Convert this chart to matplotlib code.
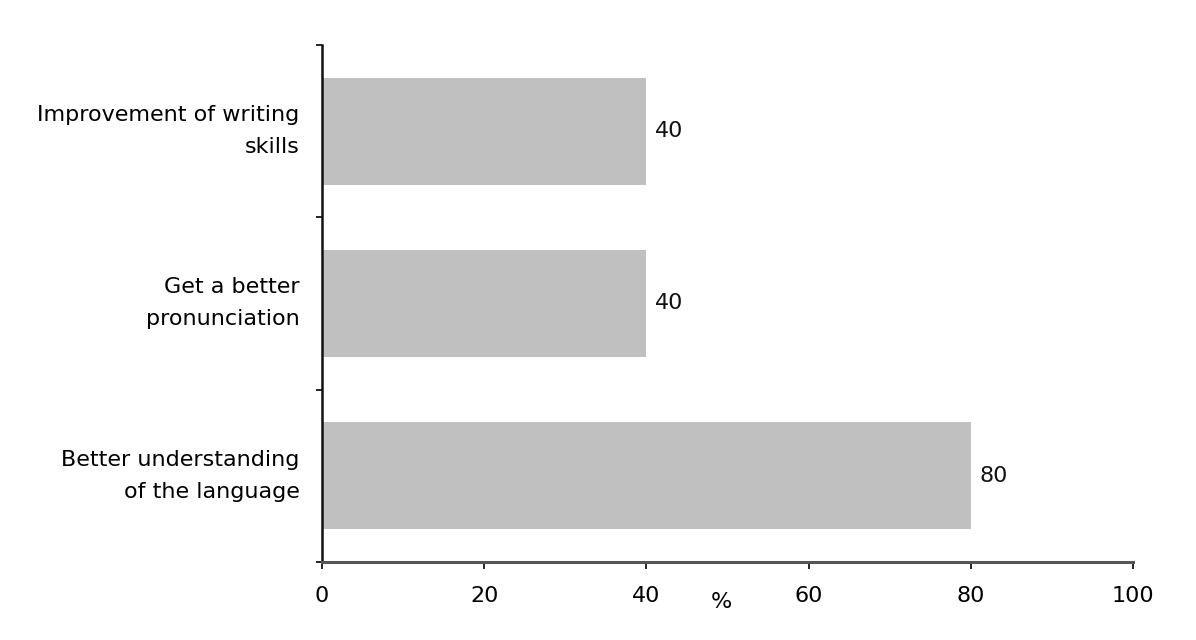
import numpy as np
import matplotlib
matplotlib.use("Agg")
import matplotlib.pyplot as plt
from matplotlib.ticker import FixedLocator

# Data (bottom to top)
categories = ["Better understanding\nof the language",
              "Get a better\npronunciation",
              "Improvement of writing\nskills"]
values = [80, 40, 40]
x_ticks = [0, 20, 40, 60, 80, 100]

plt.rcParams['font.family'] = ['DejaVu Sans']
FS = 16

fig = plt.figure(figsize=(11.96, 6.4), dpi=100)
ax = fig.add_axes([0.2692, 0.1219, 0.6781, 0.8078])

pos = np.arange(len(categories))
ax.barh(pos, values, height=0.62, color="#c0c0c0", edgecolor="none")

for p, v in zip(pos, values):
    ax.text(v + 1.1, p, str(v), va="center", ha="left", fontsize=FS, color="#111111")

ax.set_xlim(0, 100)
ax.set_ylim(-0.5, len(categories) - 0.5)

# ticks on category boundaries, labels in the middle
ax.yaxis.set_major_locator(FixedLocator(np.arange(len(categories) + 1) - 0.5))
ax.yaxis.set_minor_locator(FixedLocator(pos))
ax.set_yticklabels([], minor=False)
ax.set_yticklabels(categories, minor=True, fontsize=FS, linespacing=1.75)
for lbl in ax.get_yticklabels(minor=True):
    lbl.set_verticalalignment("center")
ax.tick_params(axis="y", which="major", length=4, width=1.2, direction="out")
ax.tick_params(axis="y", which="minor", length=0, pad=16)

ax.set_xticks(x_ticks)
ax.tick_params(axis="x", which="major", length=5, width=1.2, direction="out", pad=12, labelsize=FS)

ax.text(0.493, -0.077, "%", transform=ax.transAxes, ha="center", va="center", fontsize=FS)

for side in ["top", "right"]:
    ax.spines[side].set_visible(False)
ax.spines["left"].set_linewidth(1.8)
ax.spines["left"].set_color("#111111")
ax.spines["bottom"].set_linewidth(2.2)
ax.spines["bottom"].set_color("#555555")

fig.savefig("out.png", dpi=100, facecolor="white")
